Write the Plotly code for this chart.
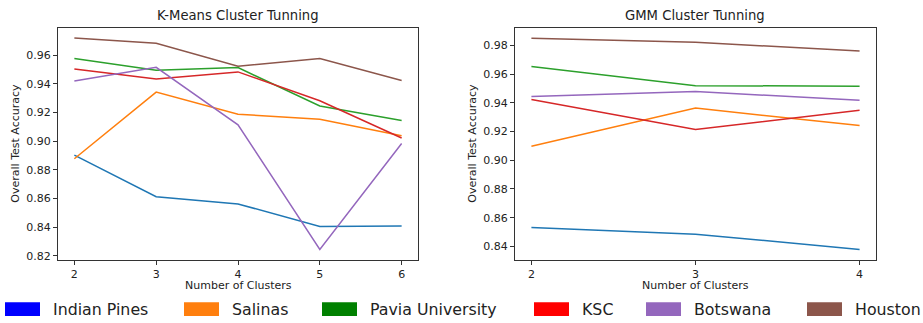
import plotly.graph_objects as go

# ---------------- data ----------------
datasets = ["Indian Pines", "Salinas", "Pavia University", "KSC", "Botswana", "Houston"]
line_colors = ["#1f77b4", "#ff7f0e", "#2ca02c", "#d62728", "#9467bd", "#8c564b"]
legend_colors = ["#0000ff", "#ff7f0e", "#008000", "#ff0000", "#9467bd", "#8c564b"]

kmeans_clusters = [2, 3, 4, 5, 6]
kmeans_indian_pines = [0.8902, 0.8612, 0.8562, 0.8405, 0.8408]
kmeans_salinas = [0.8877, 0.9342, 0.9188, 0.9153, 0.9038]
kmeans_pavia = [0.9577, 0.9494, 0.9513, 0.9245, 0.9144]
kmeans_ksc = [0.9503, 0.9434, 0.9483, 0.9282, 0.9022]
kmeans_botswana = [0.9420, 0.9515, 0.9114, 0.8244, 0.8983]
kmeans_houston = [0.9720, 0.9683, 0.9522, 0.9577, 0.9423]

gmm_clusters = [2, 3, 4]
gmm_indian_pines = [0.8531, 0.8485, 0.8379]
gmm_salinas = [0.9098, 0.9364, 0.9242]
gmm_pavia = [0.9653, 0.9520, 0.9517]
gmm_ksc = [0.9424, 0.9215, 0.9348]
gmm_botswana = [0.9444, 0.9479, 0.9419]
gmm_houston = [0.9850, 0.9823, 0.9761]

kmeans_series = [kmeans_indian_pines, kmeans_salinas, kmeans_pavia, kmeans_ksc, kmeans_botswana, kmeans_houston]
gmm_series = [gmm_indian_pines, gmm_salinas, gmm_pavia, gmm_ksc, gmm_botswana, gmm_houston]

kmeans_yticks = [0.82, 0.84, 0.86, 0.88, 0.90, 0.92, 0.94, 0.96]
gmm_yticks = [0.84, 0.86, 0.88, 0.90, 0.92, 0.94, 0.96, 0.98]

# ---------------- figure ----------------
W, H = 923, 323
FONT = "DejaVu Sans, Verdana, sans-serif"

fig = go.Figure()
for name, col, ys in zip(datasets, line_colors, kmeans_series):
    fig.add_trace(go.Scatter(x=kmeans_clusters, y=ys, mode="lines", name=name,
                             line=dict(color=col, width=1.5), showlegend=False,
                             xaxis="x", yaxis="y"))
for name, col, ys in zip(datasets, line_colors, gmm_series):
    fig.add_trace(go.Scatter(x=gmm_clusters, y=ys, mode="lines", name=name,
                             line=dict(color=col, width=1.5), showlegend=False,
                             xaxis="x2", yaxis="y2"))

def px(x):
    return x / W

def py(y):
    return 1 - y / H

ax_common = dict(showgrid=False, zeroline=False, showline=True, linecolor="#333",
                 linewidth=1, mirror=True, ticks="outside", ticklen=4, tickwidth=1,
                 tickcolor="#333", tickfont=dict(family=FONT, size=11, color="#222"))

fig.update_layout(
    width=W, height=H,
    margin=dict(l=0, r=0, t=0, b=0),
    paper_bgcolor="white", plot_bgcolor="white",
    font=dict(family=FONT, color="#222"),
    xaxis=dict(domain=[px(58), px(418)], range=[1.8, 6.2], tickvals=kmeans_clusters,
               anchor="y", **ax_common),
    yaxis=dict(domain=[py(262), py(28)], range=[0.8174, 0.9791], tickvals=kmeans_yticks,
               tickformat=".2f", anchor="x", **ax_common),
    xaxis2=dict(domain=[px(515), px(876)], range=[1.9, 4.1], tickvals=gmm_clusters,
                anchor="y2", **ax_common),
    yaxis2=dict(domain=[py(262), py(28)], range=[0.8308, 0.9924], tickvals=gmm_yticks,
                tickformat=".2f", anchor="x2", **ax_common),
)

annotations = []
# titles
annotations.append(dict(text="K-Means Cluster Tunning", x=px(238), y=py(16), xref="paper", yref="paper",
                        showarrow=False, font=dict(family=FONT, size=13.2, color="#222"),
                        xanchor="center", yanchor="middle"))
annotations.append(dict(text="GMM Cluster Tunning", x=px(695), y=py(16), xref="paper", yref="paper",
                        showarrow=False, font=dict(family=FONT, size=13.2, color="#222"),
                        xanchor="center", yanchor="middle"))
# axis titles
for cx in (238, 695):
    annotations.append(dict(text="Number of Clusters", x=px(cx), y=py(288), xref="paper", yref="paper",
                            showarrow=False, font=dict(family=FONT, size=11, color="#222"),
                            xanchor="center", yanchor="middle"))
for cx in (16, 473):
    annotations.append(dict(text="Overall Test Accuracy", x=px(cx), y=py(145), xref="paper", yref="paper",
                            showarrow=False, textangle=-90, font=dict(family=FONT, size=11, color="#222"),
                            xanchor="center", yanchor="middle"))

# manual legend (patches + labels)
patch_left = [5, 184, 322, 534, 646, 807]
shapes = []
for name, col, x0 in zip(datasets, legend_colors, patch_left):
    shapes.append(dict(type="rect", xref="paper", yref="paper",
                       x0=px(x0), x1=px(x0 + 35), y0=py(319), y1=py(305),
                       fillcolor=col, line=dict(width=0)))
    annotations.append(dict(text=name, x=px(x0 + 46), y=py(312.5), xref="paper", yref="paper",
                            showarrow=False, xanchor="left", yanchor="middle",
                            font=dict(family=FONT, size=15.8, color="#222")))

fig.update_layout(annotations=annotations, shapes=shapes)
fig.write_html("out.html")
